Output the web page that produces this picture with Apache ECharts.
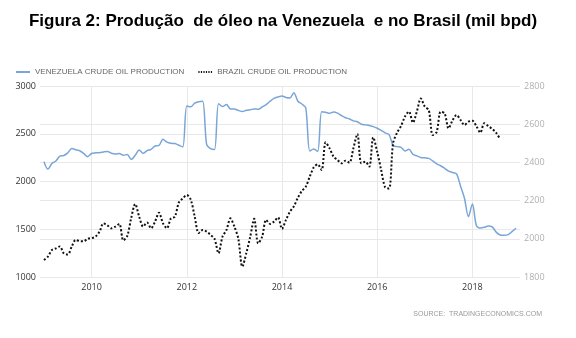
<!DOCTYPE html>
<html>
<head>
<meta charset="utf-8">
<script src="https://cdn.jsdelivr.net/npm/echarts@6/dist/echarts.min.js"></script>
<style>
html,body{margin:0;padding:0;background:#fff;}
#chart{width:576px;height:338px;}
</style>
</head>
<body>
<div id="chart"></div>
<script>
// Axis range: monthly categories Dec 2008 .. Jan 2019
var startYear = 2008, startMonth = 12, monthCount = 122;
var tickYears = ['2010', '2012', '2014', '2016', '2018'];
var leftTicks = [1000, 1500, 2000, 2500, 3000];
var rightTicks = [1800, 2000, 2200, 2400, 2600, 2800];
var seriesNames = ['VENEZUELA CRUDE OIL PRODUCTION', 'BRAZIL CRUDE OIL PRODUCTION'];
var dataStart = '2009-01';

// Venezuela crude oil production, monthly from 2009-01 (left axis)
var venezuela = [
  2208,2130,2190,2215,2265,2272,2300,2345,2333,2322,2295,2260,
  2293,2300,2302,2310,2315,2295,2288,2293,2275,2282,2232,2275,
  2330,2295,2323,2337,2372,2378,2442,2412,2400,2398,2380,2362,
  2790,2782,2820,2835,2840,2390,2345,2335,2815,2785,2805,2760,
  2758,2745,2732,2745,2752,2760,2756,2780,2805,2840,2870,2885,
  2895,2880,2875,2930,2840,2812,2770,2320,2340,2315,2730,2724,
  2714,2728,2716,2690,2668,2655,2635,2625,2600,2593,2587,2575,
  2558,2535,2510,2490,2380,2365,2358,2320,2337,2285,2268,2252,
  2248,2242,2215,2185,2165,2138,2108,2095,2079,1953,1824,1632,
  1765,1540,1512,1520,1535,1525,1470,1440,1436,1443,1475,1510
];
// Brazil crude oil production, monthly from 2009-01 (right axis)
var brazil = [
  1889,1907,1941,1950,1960,1924,1918,1959,1994,1988,1987,2001,
  2003,2011,2037,2081,2070,2055,2064,2078,1992,2015,2110,2182,
  2116,2064,2085,2055,2090,2137,2081,2055,2107,2116,2190,2212,
  2229,2205,2116,2030,2046,2038,2020,2000,1924,2011,2046,2107,
  2064,2000,1854,1924,2011,2105,1976,2011,2099,2078,2090,2112,
  2052,2099,2142,2170,2215,2250,2273,2325,2374,2390,2360,2505,
  2474,2430,2413,2395,2409,2399,2474,2549,2395,2404,2378,2531,
  2456,2360,2270,2264,2500,2555,2590,2640,2666,2608,2666,2735,
  2692,2674,2543,2560,2665,2657,2578,2620,2648,2622,2596,2613,
  2618,2590,2556,2605,2590,2575,2555,2521
];

var months = [];
for (var i = 0; i < monthCount; i++) {
  var t = (startMonth - 1) + i;
  var y = startYear + Math.floor(t / 12);
  var m = (t % 12) + 1;
  months.push(y + '-' + (m < 10 ? '0' + m : m));
}
var off = months.indexOf(dataStart);
function pairs(arr) { return arr.map(function (v, i) { return [months[off + i], v]; }); }
function isTick(idx, val) {
  var v = months[idx] || val;
  return v.slice(5) === '01' && tickYears.indexOf(v.slice(0, 4)) >= 0;
}
function plain(v) { return String(v); }

var chart = echarts.init(document.getElementById('chart'), null, {renderer: 'canvas'});
chart.setOption({
  animation: false,
  backgroundColor: '#ffffff',
  title: {
    text: 'Figura 2: Produção  de óleo na Venezuela  e no Brasil (mil bpd)',
    left: 278, top: 8, textAlign: 'center',
    textStyle: {fontFamily: 'Liberation Sans, Arial, sans-serif', fontWeight: 'bold', fontSize: 17, color: '#000'}
  },
  legend: {
    left: 11, top: 63, itemGap: 14, itemWidth: 14, itemHeight: 2,
    textStyle: {fontFamily: 'Liberation Sans Narrow, Liberation Sans, Arial, sans-serif', fontSize: 8, color: '#666'},
    data: [
      {name: seriesNames[0], icon: 'path://M0,0 L14,0 L14,2 L0,2 Z'},
      {name: seriesNames[1], icon: 'path://M0,0h1.2v2h-1.2zM2.5,0h1.2v2h-1.2zM5,0h1.2v2h-1.2zM7.5,0h1.2v2h-1.2zM10,0h1.2v2h-1.2zM12.5,0h1.2v2h-1.2z'}
    ]
  },
  graphic: [{
    type: 'text', right: 34, top: 311,
    style: {text: 'SOURCE:  TRADINGECONOMICS.COM', fill: '#999', font: '7px "Liberation Sans", Arial, sans-serif'}
  }],
  grid: {left: 40, right: 56, top: 86, bottom: 61, containLabel: false},
  xAxis: {
    type: 'category', data: months, boundaryGap: false,
    axisLine: {show: false}, axisTick: {show: false},
    axisLabel: {
      interval: function (idx, val) { return isTick(idx, val); },
      formatter: function (val) { return val.slice(0, 4); },
      color: '#333', fontSize: 9, fontFamily: 'Open Sans, sans-serif', margin: 6
    },
    splitLine: {show: true, interval: function (idx, val) { return isTick(idx, val); }, lineStyle: {color: '#e8e8e8', width: 1}}
  },
  yAxis: [{
    type: 'value', min: leftTicks[0], max: leftTicks[leftTicks.length - 1], interval: 500, position: 'left',
    axisLine: {show: false}, axisTick: {show: false},
    axisLabel: {color: '#333', fontSize: 9, fontFamily: 'Open Sans, sans-serif', margin: 4, formatter: plain},
    splitLine: {lineStyle: {color: '#e8e8e8', width: 1}}
  }, {
    type: 'value', min: rightTicks[0], max: rightTicks[rightTicks.length - 1], interval: 200, position: 'right',
    axisLine: {show: false}, axisTick: {show: false},
    axisLabel: {color: '#b0b0b0', fontSize: 9, fontFamily: 'Open Sans, sans-serif', margin: 4, formatter: plain},
    splitLine: {show: true, lineStyle: {color: '#e8e8e8', width: 1}}
  }],
  series: [{
    name: seriesNames[0], type: 'line', yAxisIndex: 0, data: pairs(venezuela),
    showSymbol: false, smooth: 0.3,
    lineStyle: {color: '#7aa5d8', width: 1.5}, itemStyle: {color: '#7aa5d8'}
  }, {
    name: seriesNames[1], type: 'line', yAxisIndex: 1, data: pairs(brazil),
    showSymbol: false, smooth: 0.3,
    lineStyle: {color: '#111', width: 2, type: [2, 2]}, itemStyle: {color: '#111'}
  }]
});
</script>
</body>
</html>
